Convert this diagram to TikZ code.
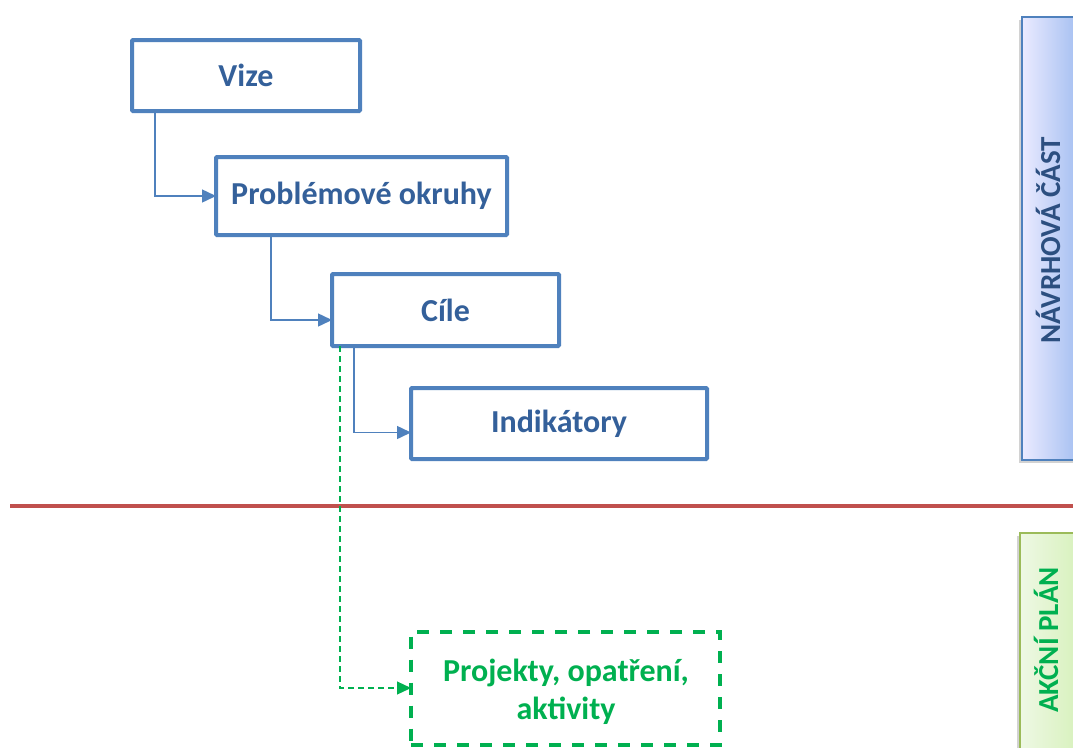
\documentclass[tikz,border=0pt]{standalone}
\usepackage{fontspec}
\setmainfont{Carlito}
\usetikzlibrary{arrows.meta}
\definecolor{boxblue}{HTML}{4F81BD}
\definecolor{textblue}{HTML}{34609A}
\definecolor{sideblue}{HTML}{2C4F80}
\definecolor{agreen}{HTML}{00B050}
\definecolor{redline}{HTML}{C0504D}
\definecolor{lgborder}{HTML}{9BBB59}
\tikzset{
  box/.style={draw=boxblue, line width=4pt, fill=white, rounded corners=1pt,
    inner sep=0pt, outer sep=0pt, text=textblue,
    font=\fontsize{32}{38}\selectfont\bfseries},
  conn/.style={draw=boxblue, line width=1.5pt, -{Triangle[length=14pt,width=13pt]}},
  greenbox/.style={draw=agreen, line width=4pt, dash pattern=on 12pt off 11pt,
    inner sep=0pt, outer sep=0pt},
  greentext/.style={text=agreen, align=center, inner sep=0pt,
    font=\fontsize{32}{38}\selectfont\bfseries},
  gconn/.style={draw=agreen, line width=1.2pt, dash pattern=on 6pt off 4pt,
    -{Triangle[length=14pt,width=13pt]}},
  sidetext/.style={rotate=90, font=\fontsize{29}{34}\selectfont\bfseries}
}
\begin{document}
\begin{tikzpicture}[x=1pt,y=-1pt]
\useasboundingbox (0,0) rectangle (1073,747);
\clip (0,0) rectangle (1073,747);
% side bars
\fill[black!35, opacity=0.5] (1019,20) rectangle (1080,463);
\shade[left color=blue!8!white, right color={rgb,255:red,160;green,188;blue,240}, draw=boxblue, line width=1.2pt]
  (1022,17) rectangle (1082,460);
\node[sidetext, text=sideblue] (navrh) at (1048,240) {NÁVRHOVÁ ČÁST};
\fill[black!35, opacity=0.5] (1017,536) rectangle (1080,760);
\shade[left color={rgb,255:red,238;green,248;blue,228}, right color={rgb,255:red,214;green,241;blue,186}, draw=lgborder, line width=1.2pt]
  (1020,533) rectangle (1082,760);
\node[sidetext, text=agreen] (akcni) at (1046,640) {AKČNÍ PLÁN};
% boxes
\node[box, minimum width=228pt, minimum height=71pt] (vize) at (246,75.5) {Vize};
\node[box, minimum width=291pt, minimum height=78pt] (prob) at (361.5,196) {Problémové okruhy};
\node[box, minimum width=227pt, minimum height=72pt] (cile) at (445.5,310) {Cíle};
\node[box, minimum width=296pt, minimum height=71pt] (ind) at (559,423.5) {Indikátory};
\node[greenbox, minimum width=309pt, minimum height=113pt] (proj) at (565.5,688) {};
\node[greentext] (projtext) at (566,692) {Projekty, opatření,\\aktivity};
% connectors
\draw[conn] ([xshift=23pt]vize.south west) |- (prob.west);
\draw[conn] ([xshift=55pt]prob.south west) |- ([yshift=-10pt]cile.west);
\draw[conn] ([xshift=22pt]cile.south west) |- ([yshift=-9pt]ind.west);
% red divider
\coordinate (rl) at (10,506);
\coordinate (rr) at (1073,506);
\draw[redline, line width=4pt] (rl) -- (rr);
% green dashed connector
\draw[gconn] ([xshift=8pt]cile.south west) |- (proj.west);
\end{tikzpicture}
\end{document}
